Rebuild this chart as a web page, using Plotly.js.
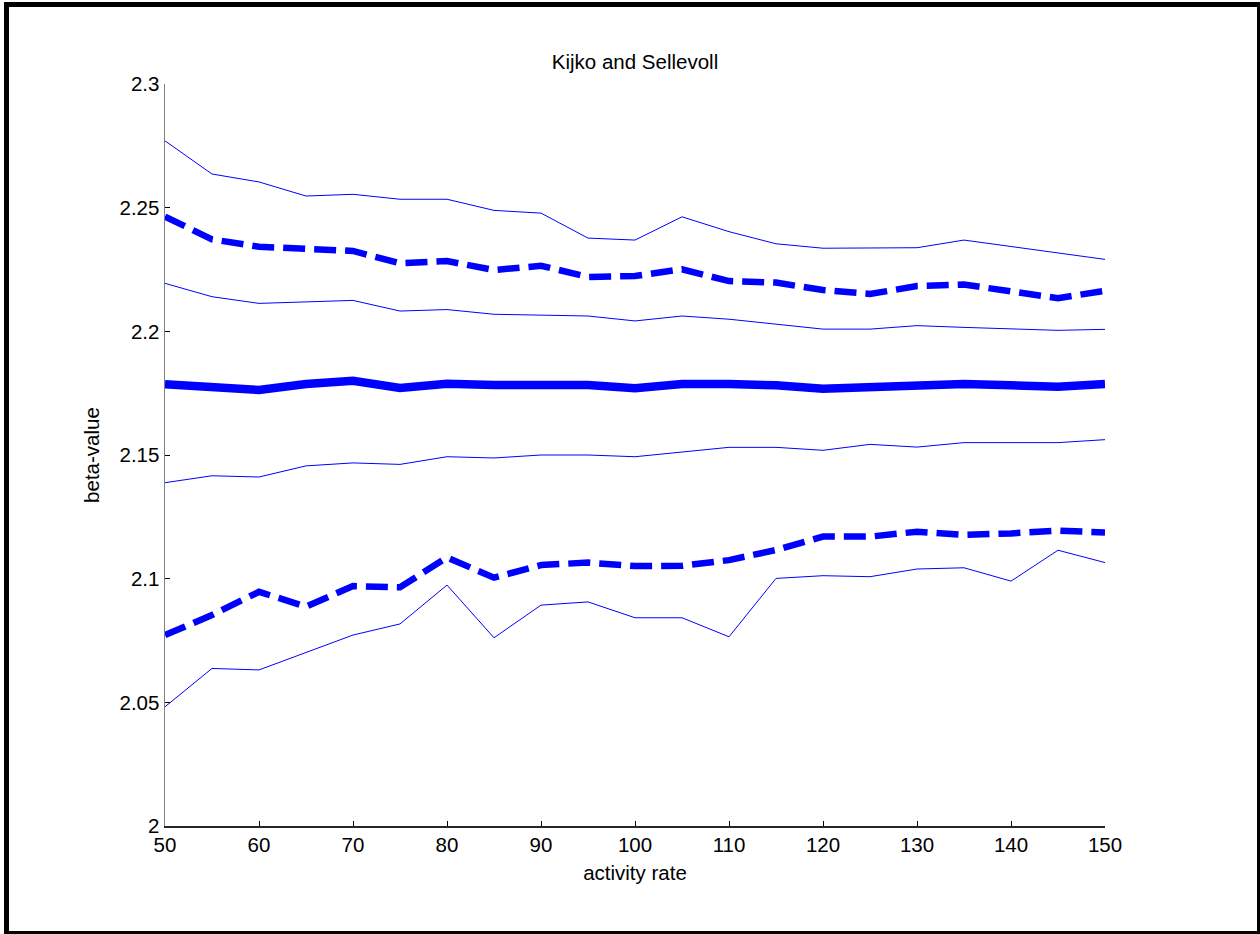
<!DOCTYPE html>
<html>
<head>
<meta charset="utf-8">
<script src="https://cdn.plot.ly/plotly-3.0.1.min.js"></script>
<style>
  html, body { margin: 0; padding: 0; background: #ffffff; }
  #chart { width: 1260px; height: 934px; }
</style>
</head>
<body>
<div id="chart"></div>
<script>
// activity rate (x)
const activityRate = [50, 55, 60, 65, 70, 75, 80, 85, 90, 95, 100, 105, 110, 115, 120, 125, 130, 135, 140, 145, 150];

// beta-value series
const upperOuter = [2.277, 2.2636, 2.2604, 2.2547, 2.2554, 2.2534, 2.2534, 2.2489, 2.2478, 2.2377, 2.2369, 2.2463, 2.2403, 2.2354, 2.2336, 2.2336, 2.2338, 2.2369, 2.2342, 2.2316, 2.2291];
const upperDashed = [2.2464, 2.2372, 2.2342, 2.2336, 2.2325, 2.2275, 2.2284, 2.2248, 2.2265, 2.2220, 2.2224, 2.2251, 2.2203, 2.2197, 2.2167, 2.2151, 2.2183, 2.2189, 2.2164, 2.2134, 2.2164];
const upperInner = [2.2194, 2.2140, 2.2113, 2.2120, 2.2125, 2.2082, 2.2088, 2.2069, 2.2067, 2.2062, 2.2042, 2.2062, 2.2049, 2.2030, 2.2009, 2.2009, 2.2023, 2.2016, 2.2011, 2.2004, 2.2008];
const meanBeta = [2.1786, 2.1774, 2.1763, 2.1787, 2.1800, 2.1771, 2.1788, 2.1783, 2.1782, 2.1783, 2.1770, 2.1787, 2.1787, 2.1782, 2.1768, 2.1774, 2.1774, 2.1787, 2.1782, 2.1776, 2.1787];
const lowerInner = [2.1388, 2.1416, 2.1411, 2.1456, 2.1468, 2.1462, 2.1493, 2.1488, 2.1500, 2.1500, 2.1493, 2.1512, 2.1531, 2.1531, 2.1519, 2.1543, 2.1532, 2.1550, 2.1550, 2.1550, 2.1562];
const lowerDashed = [2.0772, 2.0853, 2.0947, 2.0887, 2.0970, 2.0965, 2.1086, 2.1004, 2.1055, 2.1065, 2.1051, 2.1052, 2.1075, 2.1116, 2.1170, 2.1170, 2.1190, 2.1177, 2.1183, 2.1194, 2.1187];
const lowerOuter = [2.0482, 2.0637, 2.0631, 2.0701, 2.0772, 2.0817, 2.0974, 2.0761, 2.0893, 2.0906, 2.0842, 2.0842, 2.0765, 2.1001, 2.1012, 2.1008, 2.1039, 2.1044, 2.0990, 2.1115, 2.1065];

const titleText = 'Kijko and Sellevoll';
const xTitle = 'activity rate';
const yTitle = 'beta-value';
const yTickVals = [2, 2.05, 2.1, 2.15, 2.2, 2.25, 2.3];
const yTickText = ['2', '2.05', '2.1', '2.15', '2.2', '2.25', '2.3'];
const xTickVals = [50, 60, 70, 80, 90, 100, 110, 120, 130, 140, 150];

const blue = '#0000ff';
function thin(y) { return { x: activityRate, y: y, type: 'scatter', mode: 'lines', line: { color: blue, width: 1 }, hoverinfo: 'skip' }; }
function dashed(y) { return { x: activityRate, y: y, type: 'scatter', mode: 'lines', line: { color: blue, width: 6.5, dash: '22px,9px' }, hoverinfo: 'skip' }; }

const traces = [
  thin(upperOuter),
  dashed(upperDashed),
  thin(upperInner),
  { x: activityRate, y: meanBeta, type: 'scatter', mode: 'lines', line: { color: blue, width: 8.5 }, hoverinfo: 'skip' },
  thin(lowerInner),
  dashed(lowerDashed),
  thin(lowerOuter)
];

const fontFam = 'Arial, "Liberation Sans", Helvetica, sans-serif';
const fs = 20.5;
const layout = {
  width: 1260,
  height: 934,
  margin: { l: 165, r: 155, t: 84, b: 108, pad: 0 },
  paper_bgcolor: '#ffffff',
  plot_bgcolor: '#ffffff',
  showlegend: false,
  font: { family: fontFam, color: '#000000', size: fs },
  title: { text: titleText, font: { family: fontFam, size: fs, color: '#000000' }, x: 0.5, xref: 'paper', xanchor: 'center', y: 1 - 62 / 934, yanchor: 'middle' },
  xaxis: {
    range: [50, 150],
    tickvals: xTickVals,
    ticks: 'inside', ticklen: 5, tickwidth: 1, tickcolor: '#000000',
    showline: true, linecolor: '#262626', linewidth: 1.5, mirror: false,
    showgrid: false, zeroline: false,
    tickfont: { family: fontFam, size: fs, color: '#000000' },
    title: { text: xTitle, font: { family: fontFam, size: fs, color: '#000000' }, standoff: 10 },
    automargin: false
  },
  yaxis: {
    range: [2, 2.3],
    tickvals: yTickVals,
    ticktext: yTickText,
    ticks: 'inside', ticklen: 5, tickwidth: 1, tickcolor: '#000000',
    showline: true, linecolor: '#808080', linewidth: 1.5, mirror: false,
    showgrid: false, zeroline: false,
    tickfont: { family: fontFam, size: fs, color: '#000000' },
    title: { text: yTitle, font: { family: fontFam, size: fs, color: '#000000' }, standoff: 14 },
    automargin: false
  },
  shapes: [
    { type: 'rect', xref: 'paper', yref: 'paper', x0: (6.5 - 165) / 940, x1: (1259.5 - 165) / 940, y0: (826 - 933.5) / 742, y1: (826 - 4.5) / 742, line: { color: '#000000', width: 5 }, fillcolor: 'rgba(0,0,0,0)', layer: 'above' }
  ]
};

Plotly.newPlot('chart', traces, layout, { displayModeBar: false, staticPlot: true });
</script>
</body>
</html>
